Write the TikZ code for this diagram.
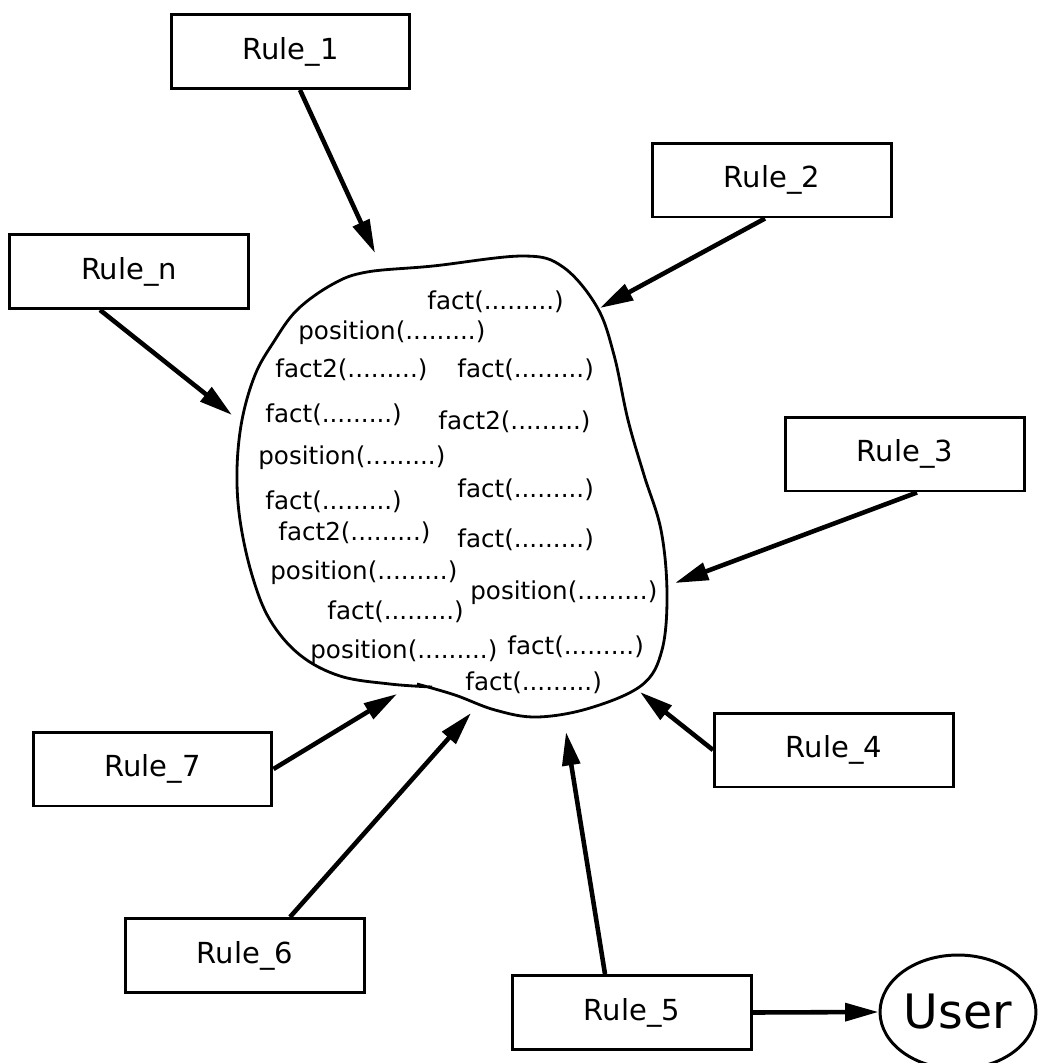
\documentclass[tikz,border=0pt]{standalone}
\usepackage{fontspec}
\setmainfont{DejaVu Sans}
\usetikzlibrary{arrows.meta,shapes.geometric}
\begin{document}
\begin{tikzpicture}[x=0.02cm,y=-0.02cm,
  rulebox/.style={draw,line width=1.7pt,minimum width=4.78cm,minimum height=1.48cm,inner sep=0pt,font=\fontsize{16.5}{18}\selectfont},
  fct/.style={anchor=west,inner sep=0pt,font=\fontsize{14}{16}\selectfont},
  arr/.style={line width=2.6pt,-{Triangle[length=19pt,width=10pt]}},
  blobline/.style={line width=1.6pt}]
\useasboundingbox (0,0) rectangle (1038,1063);
\clip (0,0) rectangle (1038,1063);

% rule boxes
\node[rulebox] (r1) at (290.5,51.5) {Rule\_1};
\node[rulebox] (rn) at (129,271.5) {Rule\_n};
\node[rulebox] (r2) at (772,180) {Rule\_2};
\node[rulebox] (r3) at (905,454) {Rule\_3};
\node[rulebox] (r4) at (834,750) {Rule\_4};
\node[rulebox] (r5) at (632,1012.5) {Rule\_5};
\node[rulebox] (r6) at (245,955.5) {Rule\_6};
\node[rulebox] (r7) at (152.5,769) {Rule\_7};
\node[draw,ellipse,line width=1.7pt,minimum width=3.12cm,minimum height=2.28cm,inner sep=0pt,font=\fontsize{27}{30}\selectfont] (user) at (958,1012) {User};

% blob (fact base)
\draw[blobline] plot[smooth,tension=0.6] coordinates {
 (432,687) (390,684) (340,676) (300,655) (270,620) (252,575) (240,520)
 (237,470) (242,420) (255,375) (273,343) (297,310) (333,284) (367,272)
 (433,266) (523,256) (563,267) (597,307) (614,355) (628,420) (644,475)
 (661,530) (667,593) (662,650) (642,685) (590,708) (537,717) (495,710)
 (455,695) (417,684)};

% arrow tips on the blob
\coordinate (t1) at (375,253);
\coordinate (tn) at (232,415);
\coordinate (t2) at (600,308);
\coordinate (t3) at (675,583);
\coordinate (t4) at (640,692);
\coordinate (t5) at (566,732);
\coordinate (t6) at (471,713);
\coordinate (t7) at (397,694);

% facts
\node[fct] (f1) at (427,302) {fact(.........)};
\node[fct] (f2) at (298,333) {position(.........)};
\node[fct] (f3) at (275,370) {fact2(.........)};
\node[fct] (f4) at (457,370) {fact(.........)};
\node[fct] (f5) at (265,415) {fact(.........)};
\node[fct] (f6) at (438,422) {fact2(.........)};
\node[fct] (f7) at (258,458) {position(.........)};
\node[fct] (f8) at (457,490) {fact(.........)};
\node[fct] (f9) at (265,502) {fact(.........)};
\node[fct] (f10) at (278,533) {fact2(.........)};
\node[fct] (f11) at (457,540) {fact(.........)};
\node[fct] (f12) at (270,573) {position(.........)};
\node[fct] (f13) at (470,593) {position(.........)};
\node[fct] (f14) at (327,612) {fact(.........)};
\node[fct] (f15) at (310,652) {position(.........)};
\node[fct] (f16) at (507,647) {fact(.........)};
\node[fct] (f17) at (465,683) {fact(.........)};

% connectors
\draw[arr] ([xshift=0.19cm]r1.south) -- (t1);
\draw[arr] ([xshift=-0.58cm]rn.south) -- (tn);
\draw[arr] ([xshift=-0.14cm]r2.south) -- (t2);
\draw[arr] ([xshift=0.24cm]r3.south) -- (t3);
\draw[arr] (r4.west) -- (t4);
\draw[arr] ([xshift=-0.54cm]r5.north) -- (t5);
\draw[arr] ([xshift=0.9cm]r6.north) -- (t6);
\draw[arr] (r7.east) -- (t7);
\draw[arr] (r5.east) -- (user.west);
\end{tikzpicture}
\end{document}
